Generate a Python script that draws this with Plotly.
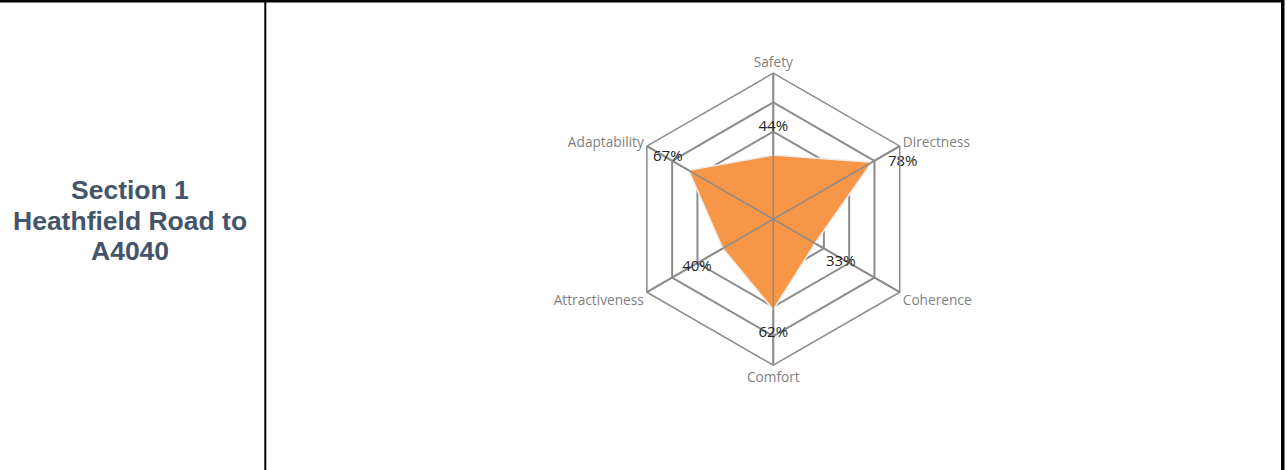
import plotly.graph_objects as go

W, H = 1287, 470

categories = ["Safety", "Directness", "Coherence", "Comfort", "Attractiveness", "Adaptability"]
values = [0.44, 0.78, 0.33, 0.62, 0.40, 0.67]
value_labels = ["44%", "78%", "33%", "62%", "40%", "67%"]
label_positions = ["top center", "middle right", "bottom right", "bottom center", "bottom left", "top left"]
label_offsets = [30, 24, 16, 24, 16, 8]
section_lines = ["Section 1", "Heathfield Road to", "A4040"]

GRID = "#8c8c8c"
ORANGE = "#F79646"

fig = go.Figure()

# filled area
fig.add_trace(go.Scatterpolar(
    r=values + values[:1], theta=categories + categories[:1],
    mode="lines", fill="toself", fillcolor=ORANGE,
    line=dict(color="#eeeeee", width=1.5),
    hoverinfo="skip", showlegend=False,
))

# spokes drawn above the fill (as in the reference)
sr, st = [], []
for c in categories:
    sr += [0, 1, None]
    st += [c, c, None]
fig.add_trace(go.Scatterpolar(
    r=sr, theta=st, mode="lines", line=dict(color=GRID, width=1.5),
    hoverinfo="skip", showlegend=False, connectgaps=False,
))

# data labels
fig.add_trace(go.Scatterpolar(
    r=values, theta=categories, mode="markers+text",
    marker=dict(size=label_offsets, opacity=0),
    text=value_labels, textposition=label_positions,
    textfont=dict(family="Open Sans", size=15, color="#262626"),
    hoverinfo="skip", showlegend=False,
))

cx, cy, R = 773.3, 219.2, 146.0
fig.update_layout(
    width=W, height=H,
    margin=dict(l=0, r=0, t=0, b=0),
    paper_bgcolor="white",
    showlegend=False,
    polar=dict(
        domain=dict(x=[(cx - R) / W, (cx + R) / W], y=[(H - cy - R) / H, (H - cy + R) / H]),
        bgcolor="rgba(0,0,0,0)",
        gridshape="linear",
        radialaxis=dict(range=[0, 1], dtick=0.2, showticklabels=False, ticks="",
                        showline=False, gridcolor=GRID, gridwidth=1.5),
        angularaxis=dict(rotation=90, direction="clockwise", gridcolor=GRID, gridwidth=1.5,
                         linecolor=GRID, linewidth=1.5, ticks="",
                         tickfont=dict(family="Open Sans", size=13.7, color="#7f7f7f")),
    ),
)

# table borders
shapes = [
    dict(type="rect", xref="paper", yref="paper", x0=0, x1=1282 / W, y0=(H - 2.5) / H, y1=1,
         fillcolor="black", line=dict(width=0)),
    dict(type="rect", xref="paper", yref="paper", x0=264.3 / W, x1=266.3 / W, y0=0, y1=1,
         fillcolor="black", line=dict(width=0)),
    dict(type="rect", xref="paper", yref="paper", x0=1281 / W, x1=1284.5 / W, y0=0, y1=1,
         fillcolor="black", line=dict(width=0)),
]
fig.update_layout(shapes=shapes)

ys = [190, 221, 251]
for t, y in zip(section_lines, ys):
    fig.add_annotation(text="<b>%s</b>" % t, x=130 / W, y=(H - y) / H, xref="paper", yref="paper",
                       showarrow=False, xanchor="center", yanchor="middle",
                       font=dict(family="Liberation Sans", size=26.5, color="#44546A"))

fig.write_html("out.html", config={"displayModeBar": False},
               post_script="document.body.style.margin='0';document.body.style.overflow='hidden';")
